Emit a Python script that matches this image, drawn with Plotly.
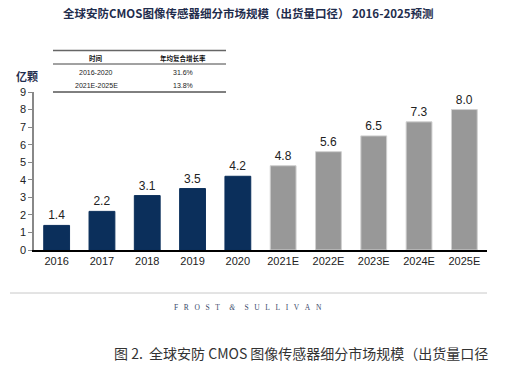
import plotly.graph_objects as go

categories = ["2016", "2017", "2018", "2019", "2020", "2021E", "2022E", "2023E", "2024E", "2025E"]
values = [1.4, 2.2, 3.1, 3.5, 4.2, 4.8, 5.6, 6.5, 7.3, 8.0]
value_labels = ["1.4", "2.2", "3.1", "3.5", "4.2", "4.8", "5.6", "6.5", "7.3", "8.0"]
is_forecast = [False] * 5 + [True] * 5
y_ticks = [0, 1, 2, 3, 4, 5, 6, 7, 8, 9]

table_header = ["时间", "年均复合增长率"]
table_periods = ["2016-2020", "2021E-2025E"]
table_cagr = ["31.6%", "13.8%"]

NAVY = "#0b2f5b"
GRAY = "#989898"

W, H = 519, 381
L, R, T, B = 34, 32, 92, 131
PW, PH = W - L - R, H - T - B


def px(x):
    return (x - L) / PW


def py(y):
    return (H - B - y) / PH


def text_at(text, x, y, size, color, family, xanchor="center"):
    return dict(text=text, x=px(x), y=py(y), xref="paper", yref="paper",
                xanchor=xanchor, yanchor="middle", showarrow=False,
                font=dict(size=size, color=color, family=family))


colors = [GRAY if f else NAVY for f in is_forecast]
line_colors = ["#d0d0d0" if f else NAVY for f in is_forecast]

fig = go.Figure()
fig.add_trace(go.Bar(
    x=categories, y=values,
    marker=dict(color=colors, line=dict(color=line_colors, width=1)),
    text=value_labels, textposition="outside",
    textfont=dict(family="Arial, Liberation Sans", size=12, color="#222222"),
    cliponaxis=False,
    width=0.57,
    hoverinfo="skip",
))

fig.update_layout(
    width=W, height=H,
    margin=dict(l=L, r=R, t=T, b=B),
    paper_bgcolor="white", plot_bgcolor="white",
    showlegend=False,
    font=dict(family="Arial, Liberation Sans, Noto Sans CJK SC", color="#222222"),
    xaxis=dict(
        type="category", showgrid=False, showline=True, linecolor="#000000", linewidth=1.5,
        ticks="", tickfont=dict(size=11, color="#222222"), fixedrange=True,
    ),
    yaxis=dict(
        range=[0, 9], tickvals=y_ticks, showgrid=False, zeroline=False,
        showline=True, linecolor="#888888", linewidth=1.5,
        ticks="outside", ticklen=4, tickcolor="#888888", tickwidth=1,
        tickfont=dict(size=11, color="#222222"), fixedrange=True,
    ),
)

ann = []
ann.append(text_at("<b>全球安防CMOS图像传感器细分市场规模（出货量口径） 2016-2025预测</b>",
                   248, 13, 11.5, "#1f2d4d", "Noto Sans CJK SC, Arial"))
ann.append(text_at("<b>亿颗</b>", 27, 76, 11, "#1f2d4d", "Noto Sans CJK SC"))
col_x = [96, 183]
ann.append(text_at("<b>" + table_header[0] + "</b>", col_x[0], 58, 6.5, "#111111", "Noto Sans CJK SC"))
ann.append(text_at("<b>" + table_header[1] + "</b>", col_x[1], 58, 6.5, "#111111", "Noto Sans CJK SC"))
for i, (p, c) in enumerate(zip(table_periods, table_cagr)):
    yy = 72 + i * 13.5
    ann.append(text_at(p, col_x[0], yy, 7, "#222222", "Arial, Liberation Sans"))
    ann.append(text_at(c, col_x[1], yy, 7, "#222222", "Arial, Liberation Sans"))
sp = "&nbsp;" * 3
sp2 = "&nbsp;" * 5
fs = sp.join("FROST") + sp2 + "<i>&amp;</i>" + sp2 + sp.join("SULLIVAN")
ann.append(text_at(fs, 248, 307, 7.5, "#3a4a6a", "Liberation Serif, DejaVu Serif"))
ann.append(text_at("图 2.  全球安防 CMOS 图像传感器细分市场规模（出货量口径",
                   112, 353, 14, "#333333", "Noto Sans CJK SC", xanchor="left"))
fig.update_layout(annotations=ann)

shapes = []
shapes.append(dict(type="line", xref="paper", yref="paper", x0=px(53), x1=px(226), y0=py(50.5), y1=py(50.5),
                   line=dict(color="#666666", width=1.5)))
shapes.append(dict(type="line", xref="paper", yref="paper", x0=px(53), x1=px(226), y0=py(64), y1=py(64),
                   line=dict(color="#444444", width=1)))
shapes.append(dict(type="line", xref="paper", yref="paper", x0=px(53), x1=px(226), y0=py(92), y1=py(92),
                   line=dict(color="#000000", width=1)))
shapes.append(dict(type="line", xref="paper", yref="paper", x0=px(10), x1=px(487), y0=py(293), y1=py(293),
                   line=dict(color="#c8c8c8", width=1)))
fig.update_layout(shapes=shapes)

fig.write_html("out.html", config={"displayModeBar": False},
               post_script="document.body.style.margin='0';document.body.style.overflow='hidden';")
